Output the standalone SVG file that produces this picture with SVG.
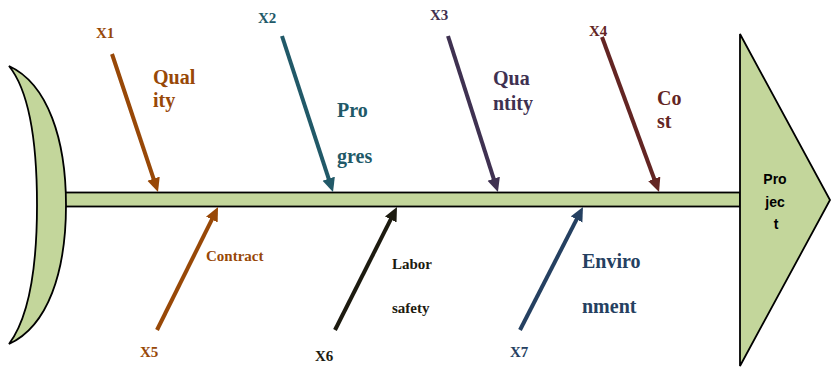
<svg xmlns="http://www.w3.org/2000/svg" width="832" height="368" viewBox="0 0 832 368">
<style>
.shape{fill:#C3D69B;stroke:#000;stroke-width:1.8}
.bone{stroke-width:4;fill:none;stroke-linecap:butt}
.lbl{font-family:"Liberation Serif","Times New Roman",serif;font-weight:bold}
.big{font-size:20px}
.small{font-size:15px}
.proj{font-family:"Liberation Sans",Arial,sans-serif;font-weight:bold;font-size:14px;fill:#000;text-anchor:middle}
.c1{fill:#984807;stroke:#984807}
.c2{fill:#215968;stroke:#215968}
.c3{fill:#3F3151;stroke:#3F3151}
.c4{fill:#632523;stroke:#632523}
.c6{fill:#1D1B10;stroke:#1D1B10}
.c7{fill:#254061;stroke:#254061}
text{stroke:none}
</style>
<defs>
<marker id="a1" markerUnits="userSpaceOnUse" markerWidth="16" markerHeight="14" refX="2" refY="6.5" orient="auto"><path d="M0,0 L14,6.5 L0,13 z" fill="#984807"/></marker>
<marker id="a2" markerUnits="userSpaceOnUse" markerWidth="16" markerHeight="14" refX="2" refY="6.5" orient="auto"><path d="M0,0 L14,6.5 L0,13 z" fill="#215968"/></marker>
<marker id="a3" markerUnits="userSpaceOnUse" markerWidth="16" markerHeight="14" refX="2" refY="6.5" orient="auto"><path d="M0,0 L14,6.5 L0,13 z" fill="#3F3151"/></marker>
<marker id="a4" markerUnits="userSpaceOnUse" markerWidth="16" markerHeight="14" refX="2" refY="6.5" orient="auto"><path d="M0,0 L14,6.5 L0,13 z" fill="#632523"/></marker>
<marker id="a6" markerUnits="userSpaceOnUse" markerWidth="16" markerHeight="14" refX="2" refY="6.5" orient="auto"><path d="M0,0 L14,6.5 L0,13 z" fill="#1D1B10"/></marker>
<marker id="a7" markerUnits="userSpaceOnUse" markerWidth="16" markerHeight="14" refX="2" refY="6.5" orient="auto"><path d="M0,0 L14,6.5 L0,13 z" fill="#254061"/></marker>
</defs>

<g id="spine"><rect class="shape" x="62" y="192.5" width="678" height="14"/></g>
<g id="tail"><path class="shape" d="M9,66 C48,84 66,140 66,205 C66,272 48,326 9,344 C30,316 37,262 37,205 C37,148 30,92 9,66 Z"/></g>
<g id="head">
<polygon class="shape" points="740,34 830,200 740,366"/>
<text class="proj" x="775" y="184">Pro</text>
<text class="proj" x="775" y="207">jec</text>
<text class="proj" x="776" y="229">t</text>
</g>

<g id="connectors">
<line class="bone c1" x1="112" y1="54" x2="154.2" y2="180.6" marker-end="url(#a1)"/>
<line class="bone c2" x1="282" y1="36" x2="329.3" y2="180.6" marker-end="url(#a2)"/>
<line class="bone c3" x1="448" y1="36" x2="494.3" y2="180.6" marker-end="url(#a3)"/>
<line class="bone c4" x1="602" y1="37" x2="654.9" y2="180.7" marker-end="url(#a4)"/>
<line class="bone c1" x1="157" y1="330" x2="212.7" y2="217.8" marker-end="url(#a1)"/>
<line class="bone c6" x1="335" y1="330" x2="391.6" y2="217.7" marker-end="url(#a6)"/>
<line class="bone c7" x1="520" y1="330" x2="577.5" y2="217.7" marker-end="url(#a7)"/>
</g>

<g id="quality" class="c1">
<text class="lbl small" x="96" y="38">X1</text>
<text class="lbl big" x="153" y="84">Qual</text>
<text class="lbl big" x="153" y="107">ity</text>
</g>
<g id="progress" class="c2">
<text class="lbl small" x="258" y="23">X2</text>
<text class="lbl big" x="337" y="117">Pro</text>
<text class="lbl big" x="337" y="163">gres</text>
</g>
<g id="quantity" class="c3">
<text class="lbl small" x="430" y="20">X3</text>
<text class="lbl big" x="493" y="85">Qua</text>
<text class="lbl big" x="493" y="110">ntity</text>
</g>
<g id="cost" class="c4">
<text class="lbl small" x="589" y="36">X4</text>
<text class="lbl big" x="657" y="105">Co</text>
<text class="lbl big" x="657" y="128">st</text>
</g>
<g id="contract" class="c1">
<text class="lbl small" x="140" y="357">X5</text>
<text class="lbl small" x="206" y="261">Contract</text>
</g>
<g id="labor" class="c6">
<text class="lbl small" x="315" y="361">X6</text>
<text class="lbl small" x="392" y="269">Labor</text>
<text class="lbl small" x="392" y="313">safety</text>
</g>
<g id="environment" class="c7">
<text class="lbl small" x="510" y="357">X7</text>
<text class="lbl big" x="582" y="268">Enviro</text>
<text class="lbl big" x="582" y="313">nment</text>
</g>
</svg>
